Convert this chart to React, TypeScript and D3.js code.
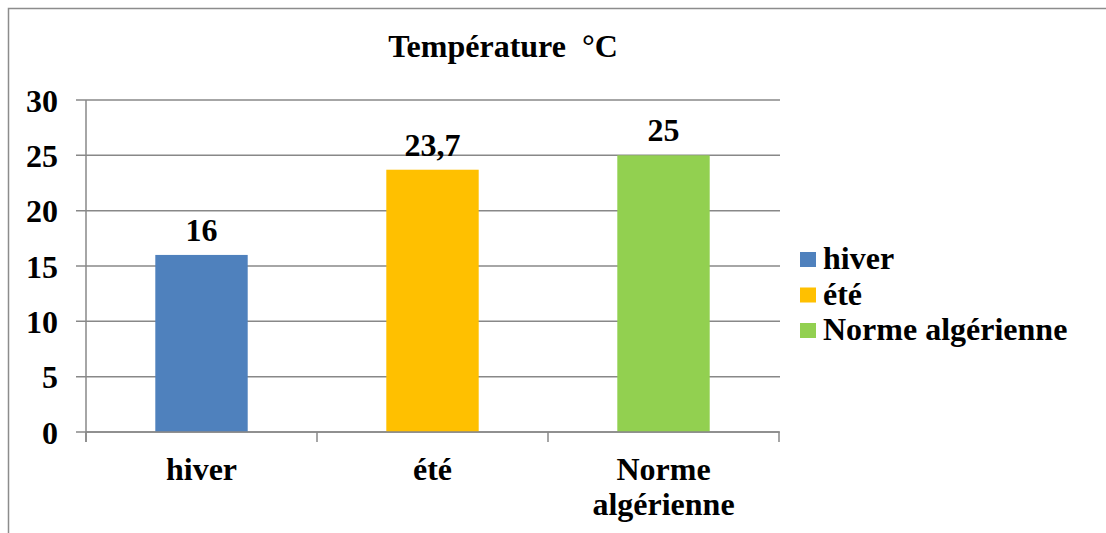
import React from "react";
import * as d3 from "d3";

const categories = ["hiver", "été", "Norme algérienne"];
const categoryLines = [["hiver"], ["été"], ["Norme", "algérienne"]];
const values = [16, 23.7, 25];
const valueLabels = ["16", "23,7", "25"];
const colors = ["#4F81BD", "#FFC000", "#92D050"];
const yTicks = [0, 5, 10, 15, 20, 25, 30];
const title = "Température\u00a0\u00a0°C";

const FONT = "'Liberation Serif', 'Times New Roman', serif";

export default function App() {
  const W = 1106, H = 533;
  const plot = { left: 86, right: 779, top: 100, bottom: 432 };
  const x = d3.scaleBand<string>().domain(categories).range([plot.left, plot.right]).paddingInner(0.6).paddingOuter(0.3);
  const y = d3.scaleLinear().domain([0, 30]).range([plot.bottom, plot.top]);
  const step = (plot.right - plot.left) / categories.length;
  const grid = "#888888";
  const fs = 32;

  return (
    <svg width={W} height={H} style={{ position: "absolute", left: 0, top: 0 }} fontFamily={FONT} fontWeight="bold">
      <rect x={0} y={0} width={W} height={H} fill="#fff" />
      <rect x={8.5} y={8.5} width={1120} height={560} fill="none" stroke="#8c8c8c" strokeWidth={1.5} />
      <text x={503} y={57} textAnchor="middle" fontSize={fs} fill="#000">{title}</text>
      {yTicks.map(t => (
        <g key={t}>
          <line x1={76} x2={plot.right + 1} y1={y(t)} y2={y(t)} stroke={grid} strokeWidth={1.5} />
          <text x={58} y={y(t) + 11.5} textAnchor="end" fontSize={fs} fill="#000">{t}</text>
        </g>
      ))}
      <line x1={plot.left} x2={plot.left} y1={plot.top} y2={plot.bottom + 10} stroke={grid} strokeWidth={1.5} />
      {d3.range(categories.length + 1).map(i => (
        <line key={i} x1={plot.left + i * step} x2={plot.left + i * step} y1={plot.bottom} y2={plot.bottom + 10} stroke={grid} strokeWidth={1.5} />
      ))}
      {categories.map((c, i) => (
        <g key={c}>
          <rect x={x(c)} y={y(values[i])} width={x.bandwidth()} height={y(0) - y(values[i])} fill={colors[i]} />
          <text x={(x(c) as number) + x.bandwidth() / 2} y={y(values[i]) - 14} textAnchor="middle" fontSize={fs} fill="#000">{valueLabels[i]}</text>
        </g>
      ))}
      <line x1={plot.left} x2={plot.right} y1={plot.bottom} y2={plot.bottom} stroke={grid} strokeWidth={1.5} />
      {categories.map((c, i) => (
        <text key={c} x={(x(c) as number) + x.bandwidth() / 2} y={480} textAnchor="middle" fontSize={fs} fill="#000">
          {categoryLines[i].map((l, j) => (
            <tspan key={j} x={(x(c) as number) + x.bandwidth() / 2} dy={j === 0 ? 0 : 35}>{l}</tspan>
          ))}
        </text>
      ))}
      {categories.map((c, i) => (
        <g key={c}>
          <rect x={800} y={252 + i * 35.5} width={16} height={15} fill={colors[i]} />
          <text x={823} y={269 + i * 35.5} fontSize={fs} fill="#000">{c}</text>
        </g>
      ))}
    </svg>
  );
}
